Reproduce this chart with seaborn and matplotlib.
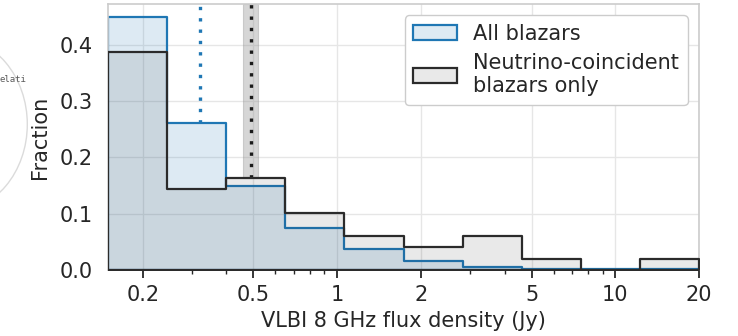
import numpy as np
import pandas as pd
import matplotlib
matplotlib.use("Agg")
import matplotlib.pyplot as plt
from matplotlib.colors import to_rgba
from matplotlib.patches import Patch, Ellipse
from matplotlib.ticker import FixedLocator, LogLocator, NullFormatter, FuncFormatter
import seaborn as sns

# Flux-density binning (Jy): 10 logarithmic bins between 0.15 and 20 Jy
flux_min, flux_max, n_bins = 0.15, 20.0, 10

# Fraction of sources per bin
all_blazars = [0.450, 0.261, 0.150, 0.075, 0.038, 0.016, 0.006, 0.002, 0.002, 0.002]
nu_blazars = [0.388, 0.143, 0.163, 0.102, 0.061, 0.041, 0.061, 0.020, 0.000, 0.020]

# Medians (Jy) and the uncertainty band on the neutrino-coincident median
all_median = 0.32
nu_median = 0.49
nu_median_band = (0.46, 0.52)

x_ticks = [0.2, 0.5, 1, 2, 5, 10, 20]
y_ticks = [0.0, 0.1, 0.2, 0.3, 0.4]
labels = ["All blazars", "Neutrino-coincident\nblazars only"]

blue = "#1f77b4"
dark = "0.17"
fs = 15

sns.set_style("whitegrid", {
    "axes.edgecolor": "0.8",
    "grid.color": "0.9",
    "xtick.bottom": True,
    "xtick.color": "0.15",
})
plt.rcParams["font.family"] = ["DejaVu Sans"]

fig = plt.figure(figsize=(7.38, 3.36), dpi=100)
ax = fig.add_axes([108 / 738, 1 - 270 / 336, 591 / 738, 266 / 336])

log_edges = np.linspace(np.log10(flux_min), np.log10(flux_max), n_bins + 1)
centers = 10 ** ((log_edges[:-1] + log_edges[1:]) / 2)
edges = 10 ** log_edges
bin_list = [float(v) for v in log_edges]

hist_data = pd.DataFrame({
    "flux": centers,
    "all": np.asarray(all_blazars, dtype=float),
    "nu": np.asarray(nu_blazars, dtype=float),
})

sns.histplot(data=hist_data, x="flux", weights="all", bins=bin_list,
             log_scale=True, element="step", fill=True, color=blue,
             alpha=0.15, linewidth=1.6, ax=ax, zorder=2)
sns.histplot(data=hist_data, x="flux", weights="nu", bins=bin_list,
             log_scale=True, element="step", fill=True, color=dark,
             alpha=0.1, linewidth=1.6, ax=ax, zorder=3)

ytop = max(all_blazars) * 1.05
ax.set_xlim(edges[0], edges[-1])
ax.set_ylim(0, ytop)


def height_at(x, values):
    i = np.searchsorted(edges, x) - 1
    return values[i]


# Median markers, drawn from the top of the axes down to the histogram
dots = (0, (1, 2.4))
ax.fill_betweenx([height_at(nu_median, nu_blazars), ytop], *nu_median_band,
                 facecolor="0.55", edgecolor="0.55", alpha=0.35, linewidth=0.8,
                 zorder=1.5)
ax.plot([all_median, all_median], [height_at(all_median, all_blazars), ytop],
        color=blue, linestyle=dots, linewidth=2.4, zorder=1.8)
ax.plot([nu_median, nu_median], [height_at(nu_median, nu_blazars), ytop],
        color="0.1", linestyle=dots, linewidth=2.4, zorder=1.8)

ax.xaxis.set_major_locator(FixedLocator(x_ticks))
ax.xaxis.set_major_formatter(FuncFormatter(lambda v, p: f"{v:g}"))
ax.xaxis.set_minor_locator(LogLocator(base=10, subs=np.arange(2, 10), numticks=20))
ax.xaxis.set_minor_formatter(NullFormatter())
ax.set_yticks(y_ticks)
ax.set_yticklabels([f"{v:.1f}" for v in y_ticks])
ax.tick_params(axis="x", which="major", length=6, width=1.3, labelsize=fs, pad=5)
ax.tick_params(axis="x", which="minor", length=3, width=1.0)
ax.tick_params(axis="y", which="both", length=0, labelsize=fs, pad=11)
ax.grid(True, which="major", color="0.9", linewidth=1.0)
ax.grid(False, which="minor")
for s in ax.spines.values():
    s.set_linewidth(1.2)

ax.set_xlabel("VLBI 8 GHz flux density (Jy)", fontsize=fs, labelpad=4)
ax.set_ylabel("Fraction", fontsize=fs, labelpad=7)

handles = [
    Patch(facecolor=to_rgba(blue, 0.15), edgecolor=blue, linewidth=1.6),
    Patch(facecolor=to_rgba(dark, 0.1), edgecolor=dark, linewidth=1.6),
]
ax.legend(handles, labels, loc="upper right", fontsize=fs, frameon=True,
          fancybox=True, edgecolor="0.8", framealpha=1.0, handlelength=2.1,
          borderaxespad=0.55, labelspacing=0.45)

# Neighbouring slide graphic at the left edge
fig.patches.append(Ellipse((-0.063, 0.63), 0.2, 0.52, transform=fig.transFigure,
                           facecolor="none", edgecolor="0.86", linewidth=1.0))
fig.text(0.0, 1 - 80 / 336, "elati", family="DejaVu Sans Mono", fontsize=6.5,
         color="0.35", va="center")

fig.savefig("out.png", dpi=100)
